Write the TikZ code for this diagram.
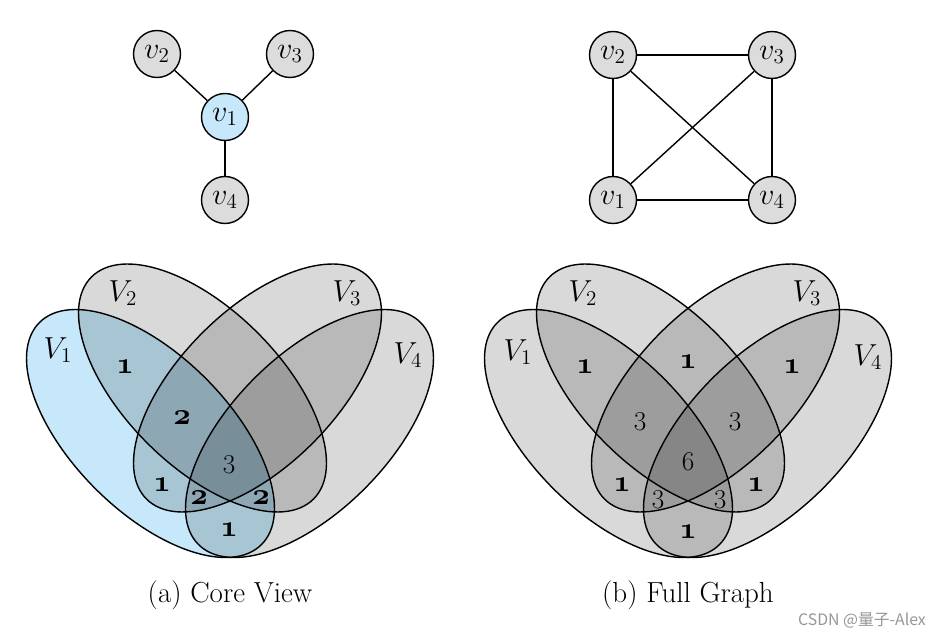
\documentclass[tikz,border=0pt]{standalone}
\usepackage{fontspec}
\newfontfamily\cjk{Noto Sans CJK SC}
\definecolor{coreblue}{RGB}{198,232,250}
\definecolor{nodegray}{RGB}{220,220,220}
\definecolor{wmgray}{RGB}{150,150,150}
\tikzset{
  vert/.style={circle, draw, line width=0.8pt, fill=nodegray, inner sep=0pt, minimum size=0.94cm, font=\LARGE},
  vcore/.style={vert, fill=coreblue},
  edge/.style={line width=0.8pt},
  setlab/.style={font=\LARGE},
  cnt/.style={font=\fontsize{15.5}{18}\selectfont},
  capt/.style={font=\fontsize{16.5}{19}\selectfont},
  ring/.style={line width=0.8pt},
  shade/.style={fill=black, fill opacity=0.15},
}
\newcommand\EllOne{(150.5,202.5) ellipse [x radius=157, y radius=78, rotate=-45]}
\newcommand\EllTwo{(202.5,248) ellipse [x radius=157, y radius=78, rotate=-45]}
\newcommand\EllThree{(257.5,248) ellipse [x radius=157, y radius=78, rotate=45]}
\newcommand\EllFour{(309.5,202.5) ellipse [x radius=157, y radius=78, rotate=45]}
\newcommand\OS[1]{{\LARGE\usefont{OML}{cmm}{b}{it}#1}}
\begin{document}
\begin{tikzpicture}[x=0.02cm, y=0.02cm]
\useasboundingbox (0,0) rectangle (947,636);

% ---------- (a) core view graph
\node[vcore] (a1) at (225,519) {$v_1$};
\node[vert]  (a2) at (157,582) {$v_2$};
\node[vert]  (a3) at (290,582) {$v_3$};
\node[vert]  (a4) at (225,436) {$v_4$};
\draw[edge] (a1) -- (a2);
\draw[edge] (a1) -- (a3);
\draw[edge] (a1) -- (a4);

% ---------- (b) full graph
\node[vert] (b2) at (613,581) {$v_2$};
\node[vert] (b3) at (772,581) {$v_3$};
\node[vert] (b1) at (613,436) {$v_1$};
\node[vert] (b4) at (772,436) {$v_4$};
\draw[edge] (b2) -- (b3);
\draw[edge] (b2) -- (b1);
\draw[edge] (b3) -- (b4);
\draw[edge] (b1) -- (b4);
\draw[edge] (b2) -- (b4);
\draw[edge] (b1) -- (b3);

% ---------- (a) venn
\begin{scope}
  \fill[coreblue] \EllOne;
  \fill[shade] \EllTwo;
  \fill[shade] \EllThree;
  \fill[shade] \EllFour;
  \draw[ring] \EllOne;
  \draw[ring] \EllTwo;
  \draw[ring] \EllThree;
  \draw[ring] \EllFour;
\end{scope}
\node[setlab] (aV1) at (58,286) {$V_1$};
\node[setlab] (aV2) at (123,343) {$V_2$};
\node[setlab] (aV3) at (347,343) {$V_3$};
\node[setlab] (aV4) at (408,281) {$V_4$};
\node[cnt] (an1) at (125,269) {\OS{1}};
\node[cnt] (an2) at (182,218) {\OS{2}};
\node[cnt] (an3) at (229,171) {3};
\node[cnt] (an4) at (162,151) {\OS{1}};
\node[cnt] (an5) at (199,138) {\OS{2}};
\node[cnt] (an6) at (261,138) {\OS{2}};
\node[cnt] (an7) at (229,106) {\OS{1}};

% ---------- (b) venn
\begin{scope}[shift={(458,0)}]
  \fill[shade] \EllOne;
  \fill[shade] \EllTwo;
  \fill[shade] \EllThree;
  \fill[shade] \EllFour;
  \draw[ring] \EllOne;
  \draw[ring] \EllTwo;
  \draw[ring] \EllThree;
  \draw[ring] \EllFour;
\end{scope}
\node[setlab] (bV1) at (518,284) {$V_1$};
\node[setlab] (bV2) at (583,343) {$V_2$};
\node[setlab] (bV3) at (807,343) {$V_3$};
\node[setlab] (bV4) at (868,279) {$V_4$};
\node[cnt] (bn1) at (585,269) {\OS{1}};
\node[cnt] (bn2) at (688,274) {\OS{1}};
\node[cnt] (bn3) at (792,269) {\OS{1}};
\node[cnt] (bn4) at (640,214) {3};
\node[cnt] (bn5) at (735,214) {3};
\node[cnt] (bn6) at (688,174) {6};
\node[cnt] (bn7) at (622,151) {\OS{1}};
\node[cnt] (bn8) at (658,136) {3};
\node[cnt] (bn9) at (720,136) {3};
\node[cnt] (bn10) at (756,151) {\OS{1}};
\node[cnt] (bn11) at (688,104) {\OS{1}};

% ---------- captions
\node[capt] (capa) at (230,41) {(a) Core View};
\node[capt] (capb) at (688,41) {(b) Full Graph};
\node[anchor=east, text=wmgray, font=\cjk\fontsize{9}{10}\selectfont] (wm) at (932,16) {CSDN @量子-Alex};
\end{tikzpicture}
\end{document}
